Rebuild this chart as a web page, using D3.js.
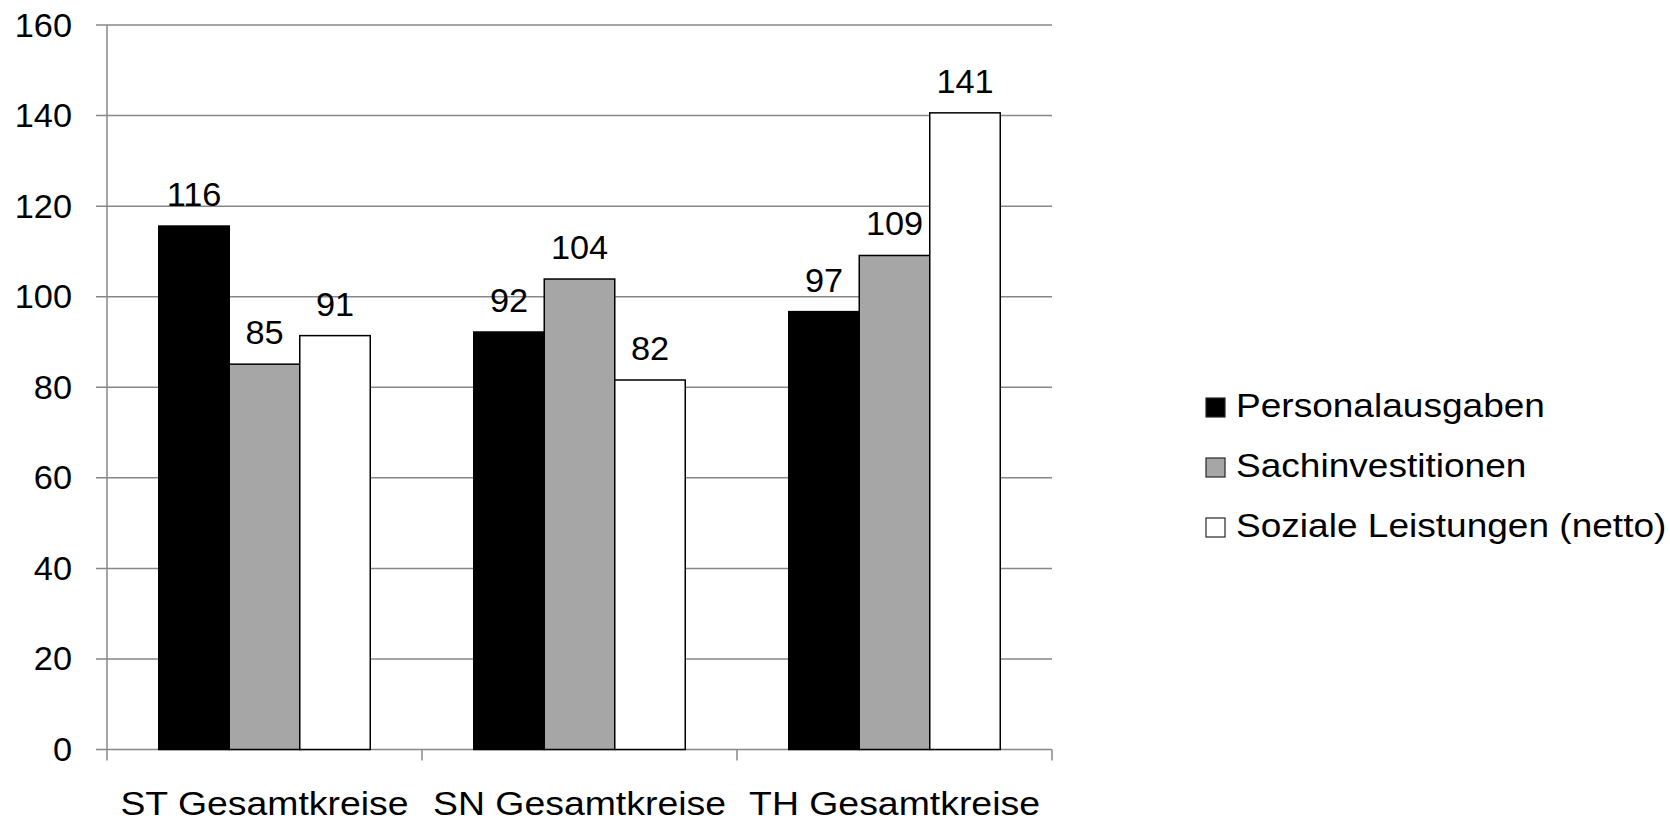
<!DOCTYPE html>
<html><head><meta charset="utf-8">
<script src="https://cdn.jsdelivr.net/npm/d3@7"></script>
<style>html,body{margin:0;padding:0;background:#fff;}svg{display:block;font-family:"Liberation Sans",Arial,sans-serif;}</style>
</head><body>
<svg id="chart" width="1670" height="819"></svg>
<script>
const categories = ["ST Gesamtkreise", "SN Gesamtkreise", "TH Gesamtkreise"];
const seriesNames = ["Personalausgaben", "Sachinvestitionen", "Soziale Leistungen (netto)"];
const personalausgaben = [115.6, 92.2, 96.7];
const sachinvestitionen = [85.1, 103.9, 109.1];
const sozialeLeistungen = [91.4, 81.6, 140.6];
const yTicks = [0, 20, 40, 60, 80, 100, 120, 140, 160];
const colors = ["#000000", "#a6a6a6", "#ffffff"];

const seriesValues = [personalausgaben, sachinvestitionen, sozialeLeistungen];
const svg = d3.select("#chart");
const m = {left: 107, right: 1052, top: 25, bottom: 749.5};
const x0 = d3.scaleBand().domain(categories).range([m.left, m.right]).paddingInner(0).paddingOuter(0);
const x1 = d3.scaleBand().domain(seriesNames).range([0, x0.bandwidth()]).paddingOuter(0.734).paddingInner(0);
const y = d3.scaleLinear().domain([0, 160]).range([m.bottom, m.top]);
const grid = "#878787";

// gridlines
svg.append("g").selectAll("line").data(yTicks).join("line")
  .attr("x1", m.left - 11).attr("x2", m.right)
  .attr("y1", d => y(d)).attr("y2", d => y(d))
  .attr("stroke", grid).attr("stroke-width", 1.5);
// y axis line
svg.append("line").attr("x1", m.left).attr("x2", m.left).attr("y1", m.top).attr("y2", m.bottom + 11)
  .attr("stroke", grid).attr("stroke-width", 1.5);
// category ticks
svg.append("g").selectAll("line").data(categories).join("line")
  .attr("x1", d => x0(d) + x0.bandwidth()).attr("x2", d => x0(d) + x0.bandwidth())
  .attr("y1", m.bottom).attr("y2", m.bottom + 11)
  .attr("stroke", grid).attr("stroke-width", 1.5);

// y labels
svg.append("g").selectAll("text").data(yTicks).join("text")
  .attr("transform", d => `translate(72,${y(d) + 11.5}) scale(1.04,1)`)
  .attr("text-anchor", "end").attr("font-size", 33).attr("fill", "#000")
  .text(d => d);

// bars
const data = [];
categories.forEach((c, i) => seriesNames.forEach((s, j) => data.push({c, s, j, v: seriesValues[j][i]})));
svg.append("g").selectAll("rect").data(data).join("rect")
  .attr("x", d => x0(d.c) + x1(d.s)).attr("width", x1.bandwidth())
  .attr("y", d => y(d.v)).attr("height", d => y(0) - y(d.v))
  .attr("fill", d => colors[d.j]).attr("stroke", "#000").attr("stroke-width", 1.5);

// data labels
svg.append("g").selectAll("text").data(data).join("text")
  .attr("transform", d => `translate(${x0(d.c) + x1(d.s) + x1.bandwidth() / 2},${y(d.v) - 20}) scale(1.04,1)`)
  .attr("text-anchor", "middle").attr("font-size", 33).attr("fill", "#000")
  .text(d => Math.round(d.v));

// category labels
svg.append("g").selectAll("text").data(categories).join("text")
  .attr("transform", d => `translate(${x0(d) + x0.bandwidth() / 2},815) scale(1.1,1)`)
  .attr("text-anchor", "middle").attr("font-size", 34).attr("fill", "#000")
  .text(d => d);

// legend
const lg = svg.append("g").selectAll("g").data(seriesNames).join("g")
  .attr("transform", (d, i) => `translate(1206,${417 + i * 60})`);
lg.append("rect").attr("x", 0).attr("y", -19).attr("width", 19).attr("height", 19)
  .attr("fill", (d, i) => colors[i]).attr("stroke", "#262626").attr("stroke-width", 1.2);
lg.append("text").attr("transform", "translate(30,0) scale(1.09,1)")
  .attr("font-size", 34).attr("fill", "#000").text(d => d);
</script>
</body></html>
